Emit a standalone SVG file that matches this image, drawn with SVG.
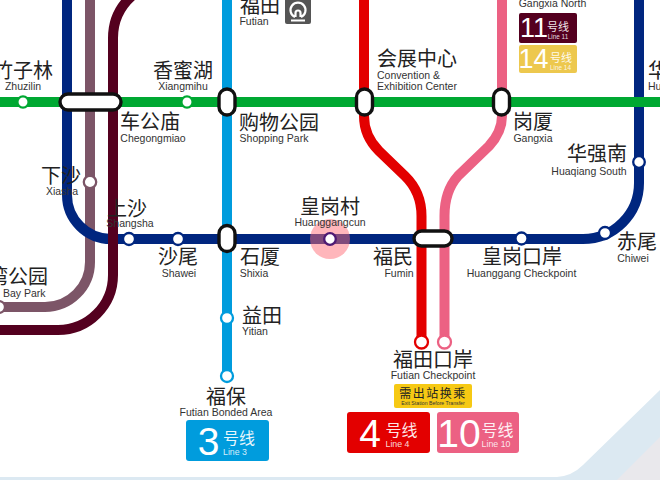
<svg xmlns="http://www.w3.org/2000/svg" width="660" height="480" viewBox="0 0 660 480">
<style>
.l{fill:none;stroke-width:10}
.st{fill:#fff;stroke-width:2.3}
.ic{fill:#fff;stroke:#111;stroke-width:3.4}
.zh{font-family:"Noto Sans CJK SC","Noto Sans CJK JP",sans-serif;font-size:20px;fill:#222;text-anchor:middle}
.en{font-family:"Liberation Sans",Arial,sans-serif;font-size:10.500px;fill:#333;text-anchor:middle}
.bn{font-family:"Liberation Sans",Arial,sans-serif;font-size:39px;fill:#fff;text-anchor:middle}
.bz{font-family:"Noto Sans CJK SC",sans-serif;font-size:16px;fill:#fff;fill-opacity:.92;text-anchor:middle}
.be{font-family:"Liberation Sans",Arial,sans-serif;font-size:8.800px;fill:#fff;fill-opacity:.85;text-anchor:middle}
</style>
<rect width="660" height="480" fill="#fff"/>
<path d="M0 477H557Q572 476 583 465L660 390V480H0Z" fill="#dce9f2"/>
<path d="M617 480L660 437V480Z" fill="#e9e8ec"/>
<g id="connectors">
<path class="l" stroke="#7c5567" d="M90 0V262A45 45 0 0 1 45 307H0"/>
<path class="l" stroke="#00267f" d="M67 0V195A44 44 0 0 0 111 239H583A56 56 0 0 0 639 183V0"/>
<path class="l" stroke="#009cdd" d="M227 0V376"/>
<path class="l" stroke="#54001f" d="M133 -5Q113 12 113 38V275A55 55 0 0 1 58 330H0"/>
<path class="l" stroke="#e30000" d="M364 0V116Q364 136 379 151L405 176Q421.500 192 421.500 216V342"/>
<path class="l" stroke="#ec6183" d="M502 0V116Q502 132 489 146L458 176Q444.500 191 444.500 216V342"/>
<path class="l" stroke="#00a832" d="M0 102H660"/>
</g>
<circle cx="330" cy="239" r="20" fill="#ff6e78" fill-opacity=".5"/>
<g id="s-zhuzilin"><circle class="st" cx="23" cy="102" r="5.600" stroke="#00a832"/><text class="zh" x="23" y="78">竹子林</text><text class="en" x="23" y="90">Zhuzilin</text></g>
<g id="s-chegongmiao"><rect class="ic" x="60" y="94" width="61" height="16" rx="8"/><text class="zh" x="150" y="129">车公庙</text><text class="en" x="153" y="142">Chegongmiao</text></g>
<g id="s-xiangmihu"><circle class="st" cx="187" cy="102" r="5.600" stroke="#00a832"/><text class="zh" x="183" y="78">香蜜湖</text><text class="en" x="183" y="90">Xiangmihu</text></g>
<g id="s-futian"><text class="zh" x="260" y="13">福田</text><text class="en" x="254" y="25">Futian</text><rect x="285" y="-2" width="26" height="26" rx="2" fill="#555"/><path d="M295 17A7.500 7.500 0 1 1 301 17M295.500 17V13A2.500 2.500 0 0 1 300.500 13V17M291 20.500H305" fill="none" stroke="#fff" stroke-width="2.200"/></g>
<g id="s-shopping"><rect class="ic" x="219" y="89" width="16" height="26" rx="8"/><text class="zh" x="279" y="130">购物公园</text><text class="en" x="274" y="142">Shopping Park</text></g>
<g id="s-convention"><rect class="ic" x="356.500" y="89" width="16" height="26" rx="8"/><text class="zh" x="417" y="66">会展中心</text><text class="en" x="377" y="79" style="text-anchor:start">Convention &amp;</text><text class="en" x="377" y="90" style="text-anchor:start">Exhibition Center</text></g>
<g id="s-gangxia"><rect class="ic" x="493.500" y="89" width="16" height="26" rx="8"/><text class="zh" x="533" y="129">岗厦</text><text class="en" x="533" y="142">Gangxia</text></g>
<g id="s-gangxia-north"><text class="en" x="552.500" y="7">Gangxia North</text>
<rect x="519" y="13" width="58" height="30" rx="2" fill="#54001f"/><text class="bn" x="534" y="37" style="font-size:27px">11</text><text class="bz" x="558" y="31" style="font-size:11px">号线</text><text class="be" x="558" y="38.500" style="font-size:6.400px">Line 11</text>
<rect x="519" y="45" width="58" height="28" rx="2" fill="#edc84e"/><text class="bn" x="533.500" y="68" style="font-size:27px">14</text><text class="bz" x="561" y="62" style="font-size:11px">号线</text><text class="be" x="560.500" y="69.500" style="font-size:6.400px">Line 14</text></g>
<g id="s-hua"><text class="zh" x="658" y="78">华</text><text class="en" x="648" y="90" style="text-anchor:start">Hu</text></g>
<g id="s-huaqiang"><circle class="st" cx="639" cy="162" r="5.800" stroke="#00267f"/><text class="zh" x="597" y="161">华强南</text><text class="en" x="589" y="175">Huaqiang South</text></g>
<g id="s-xiasha"><circle class="st" cx="90" cy="182" r="6.200" stroke="#7c5567"/><text class="zh" x="61" y="183">下沙</text><text class="en" x="62" y="195">Xiasha</text></g>
<g id="s-shangsha"><circle class="st" cx="129" cy="239" r="6" stroke="#00267f"/><text class="zh" x="127" y="216">上沙</text><text class="en" x="130" y="227">Shangsha</text></g>
<g id="s-shawei"><circle class="st" cx="178" cy="239" r="6" stroke="#00267f"/><text class="zh" x="178" y="264">沙尾</text><text class="en" x="179" y="277">Shawei</text></g>
<g id="s-shixia"><rect class="ic" x="219" y="225.500" width="16" height="26" rx="8"/><text class="zh" x="260" y="264">石厦</text><text class="en" x="254" y="277">Shixia</text></g>
<g id="s-huanggangcun"><circle class="st" cx="330" cy="239" r="5.800" stroke="#4e1a73"/><text class="zh" x="330" y="214">皇岗村</text><text class="en" x="330" y="226">Huanggangcun</text></g>
<g id="s-fumin"><rect class="ic" x="414" y="231" width="38" height="15" rx="7.500"/><text class="zh" x="393" y="264">福民</text><text class="en" x="399" y="277">Fumin</text></g>
<g id="s-hgcp"><circle class="st" cx="521.500" cy="238.500" r="6" stroke="#00267f"/><text class="zh" x="522" y="264">皇岗口岸</text><text class="en" x="521.500" y="277">Huanggang Checkpoint</text></g>
<g id="s-chiwei"><circle class="st" cx="605" cy="233" r="6" stroke="#00267f"/><text class="zh" x="637" y="249">赤尾</text><text class="en" x="633" y="262">Chiwei</text></g>
<g id="s-bay"><circle class="st" cx="-1" cy="307" r="6" stroke="#7c5567"/><text class="zh" x="18" y="284">湾公园</text><text class="en" x="3" y="297" style="text-anchor:start">Bay Park</text></g>
<g id="s-yitian"><circle class="st" cx="227" cy="318" r="6" stroke="#009cdd"/><text class="zh" x="262" y="323">益田</text><text class="en" x="255" y="335">Yitian</text></g>
<g id="s-bonded"><circle class="st" cx="227" cy="376" r="6" stroke="#009cdd"/><text class="zh" x="226" y="404">福保</text><text class="en" x="226" y="416">Futian Bonded Area</text>
<rect x="186" y="420" width="83" height="41" rx="3" fill="#009cdd"/><text class="bn" x="208.500" y="455">3</text><text class="bz" x="239" y="444">号线</text><text class="be" x="235" y="455">Line 3</text></g>
<g id="s-fcp"><circle class="st" cx="421.500" cy="342" r="6.500" stroke="#e30000"/><circle class="st" cx="444.500" cy="342" r="6.500" stroke="#ec6183"/><text class="zh" x="433" y="367">福田口岸</text><text class="en" x="433" y="379">Futian Checkpoint</text>
<rect x="394" y="384" width="78" height="24" rx="2" fill="#f6c914"/><text class="zh" x="433" y="398" style="font-size:12px;letter-spacing:1.500px">需出站换乘</text><text class="en" x="433" y="405" style="font-size:5.200px">Exit Station Before Transfer</text>
<rect x="347" y="412" width="83" height="41" rx="3" fill="#e30000"/><text class="bn" x="370" y="447">4</text><text class="bz" x="401.500" y="436">号线</text><text class="be" x="397.500" y="447">Line 4</text>
<rect x="437" y="412" width="82" height="41" rx="3" fill="#ec6183"/><text class="bn" x="459" y="447">10</text><text class="bz" x="497.500" y="436">号线</text><text class="be" x="496" y="447">Line 10</text></g>
</svg>
